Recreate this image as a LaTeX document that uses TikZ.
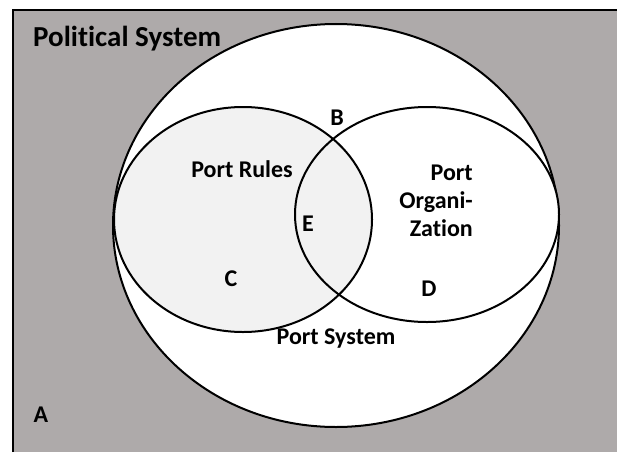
\documentclass[tikz,border=0pt]{standalone}
\usepackage{fontspec}
\setmainfont{Carlito}[Ligatures={NoCommon}]
\definecolor{bggray}{RGB}{174,170,170}
\definecolor{lightfill}{RGB}{242,242,242}
\tikzset{
  lbl/.style={font=\fontsize{24}{28}\selectfont\bfseries, inner sep=0pt},
  title/.style={font=\fontsize{29}{32}\selectfont\bfseries, inner sep=0pt},
  setline/.style={draw=black, line width=2pt},
}
\begin{document}
\begin{tikzpicture}[x=1pt,y=-1pt]
\useasboundingbox (0,0) rectangle (617,452);
\fill[white] (0,0) rectangle (617,452);
\fill[bggray] (13,10) rectangle (617,452);
\draw[line width=2.5pt] (13,452) -- (13,10) -- (617,10);
% Port System
\filldraw[fill=white, setline] (336,225.5) ellipse [x radius=223, y radius=201.5];
% Port Organization (fill)
\fill[white] (427,214.5) ellipse [x radius=132, y radius=107.5];
% Port Rules (fill)
\fill[lightfill] (243,219.5) ellipse [x radius=129, y radius=112.5];
% outlines
\draw[setline] (427,214.5) ellipse [x radius=132, y radius=107.5];
\draw[setline] (243,219.5) ellipse [x radius=129, y radius=112.5];
% labels
\node[title, anchor=base west] (pol) at (33,47) {Political System};
\node[lbl] (b) at (337,118) {B};
\node[lbl] (rules) at (242,169) {Port Rules};
\node[lbl] (e) at (308,224) {E};
\node[lbl] (c) at (231,279) {C};
\node[lbl, align=right, anchor=east] (org) at (473,201) {Port\\Organi-\\Zation};
\node[lbl] (d) at (429,289) {D};
\node[lbl] (sys) at (336,339) {Port System};
\node[lbl] (a) at (41,415) {A};
\end{tikzpicture}
\end{document}
